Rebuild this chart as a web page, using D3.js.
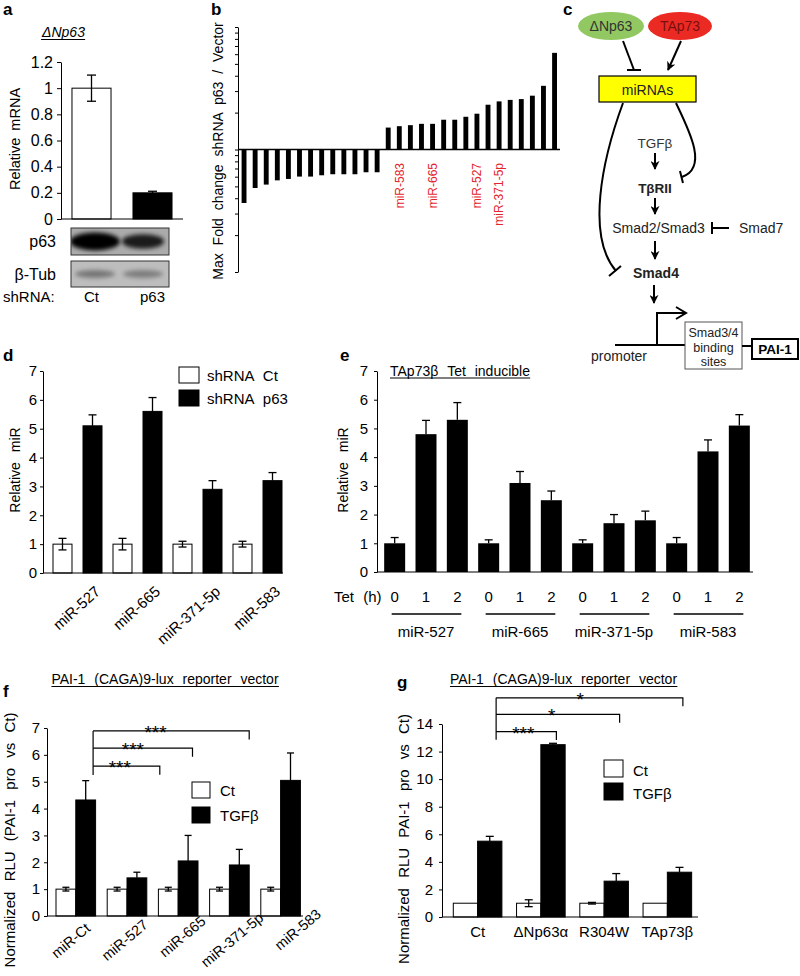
<!DOCTYPE html>
<html><head><meta charset="utf-8">
<script src="https://cdn.jsdelivr.net/npm/d3@7"></script>
<style>
body{margin:0;background:#fff}
svg{font-family:"Liberation Sans",Arial,sans-serif}
</style></head><body>
<svg id="fig" width="800" height="976" xmlns="http://www.w3.org/2000/svg"></svg>
<script>
// ---------------- DATA ----------------
// panel a
const aCategories = ["Ct", "p63"];
const aValues = [1.0, 0.2];
const aErrors = [0.1, 0.012];
const aTicks = [0, 0.2, 0.4, 0.6, 0.8, 1, 1.2];
const blotRows = ["p63", "β-Tub"];
const blotIntensity = [[1.0, 0.75], [0.5, 0.45]];
// panel b (max fold change, log axis)
const bValues = [0.366, 0.485, 0.517, 0.56, 0.575, 0.601, 0.601, 0.616, 0.628, 0.628, 0.628, 0.652, 0.652,
                 1.51, 1.55, 1.58, 1.62, 1.62, 1.75, 1.75, 1.85, 1.96, 2.32, 2.47, 2.54, 2.58, 2.75, 3.31, 6.15];
const bLabelIndex = [14, 17, 21, 23];
const bLabelText = ["miR-583", "miR-665", "miR-527", "miR-371-5p"];
const bTicks = [0.1,0.2,0.3,0.4,0.5,0.6,0.7,0.8,0.9,1,2,3,4,5,6,7,8,9,10];
// panel d
const dCategories = ["miR-527", "miR-665", "miR-371-5p", "miR-583"];
const dSeries = ["shRNA Ct", "shRNA p63"];
const dCt = [1, 1, 1, 1];
const dCtErr = [0.2, 0.2, 0.1, 0.1];
const dP63 = [5.1, 5.6, 2.9, 3.2];
const dP63Err = [0.38, 0.48, 0.3, 0.28];
const dTicks = [0, 1, 2, 3, 4, 5, 6, 7];
// panel e
const eGroups = ["miR-527", "miR-665", "miR-371-5p", "miR-583"];
const eTimes = ["0", "1", "2"];
const eValues = [[1, 4.8, 5.3], [1, 3.1, 2.5], [1, 1.7, 1.8], [1, 4.2, 5.1]];
const eErrors = [[0.2, 0.48, 0.6], [0.12, 0.4, 0.32], [0.12, 0.3, 0.32], [0.2, 0.4, 0.38]];
// panel f
const fCategories = ["miR-Ct", "miR-527", "miR-665", "miR-371-5p", "miR-583"];
const fSeries = ["Ct", "TGFβ"];
const fCt = [1, 1, 1, 1, 1];
const fCtErr = [0.07, 0.07, 0.07, 0.07, 0.07];
const fTGF = [4.32, 1.42, 2.05, 1.9, 5.05];
const fTGFErr = [0.72, 0.21, 0.95, 0.58, 1.02];
const fTicks = [0, 1, 2, 3, 4, 5, 6, 7];
const fSigTo = ["miR-527", "miR-665", "miR-371-5p"];
const fSigLabel = ["***", "***", "***"];
// panel g
const gCategories = ["Ct", "ΔNp63α", "R304W", "TAp73β"];
const gSeries = ["Ct", "TGFβ"];
const gCt = [1, 1, 1, 1];
const gCtErr = [0, 0.25, 0.06, 0];
const gTGF = [5.5, 12.5, 2.6, 3.25];
const gTGFErr = [0.35, 0.1, 0.55, 0.35];
const gTicks = [0, 2, 4, 6, 8, 10, 12, 14];
const gSigTo = ["ΔNp63α", "R304W", "TAp73β"];
const gSigLabel = ["***", "*", "*"];

// ---------------- HELPERS ----------------
const svg = d3.select("#fig");
const FONT = '"Liberation Sans", Arial, sans-serif';
const defs = svg.append("defs");
defs.append("marker").attr("id","arr").attr("viewBox","0 0 10 10").attr("refX",9).attr("refY",5)
  .attr("markerWidth",9).attr("markerHeight",9).attr("markerUnits","userSpaceOnUse").attr("orient","auto")
  .append("path").attr("d","M0,0 L10,5 L0,10 L3,5 Z").attr("fill","#000");
defs.append("filter").attr("id","blur").attr("x","-50%").attr("y","-100%").attr("width","200%").attr("height","300%")
  .append("feGaussianBlur").attr("stdDeviation", 2.2);

function text(g, t, x, y, o = {}) {
  const el = g.append("text").attr("x", x).attr("y", y).attr("font-size", o.fs || 15)
    .attr("text-anchor", o.anchor || "start").attr("fill", o.fill || "#000").text(t);
  if (o.bold) el.attr("font-weight", "bold");
  if (o.italic) el.attr("font-style", "italic");
  if (o.ws) el.style("word-spacing", o.ws + "px");
  return el;
}
function underline(el, dy = 2.5) {
  const b = el.node().getBBox();
  const y = +el.attr("y") + dy;
  d3.select(el.node().parentNode).append("line")
    .attr("x1", b.x).attr("x2", b.x + b.width).attr("y1", y).attr("y2", y).attr("stroke", "#000").attr("stroke-width", 1);
}
function vLabel(t, cx, cy, fs, ws) {
  svg.append("text").attr("transform", `translate(${cx},${cy}) rotate(-90)`).attr("text-anchor", "middle")
    .attr("dy", "0.36em").attr("font-size", fs).style("word-spacing", ws + "px").text(t);
}
function leftAxis(scale, x, ticks, fmt, fs, pad, size = 4) {
  const g = svg.append("g").attr("transform", `translate(${x},0)`)
    .call(d3.axisLeft(scale).tickValues(ticks).tickFormat(fmt).tickSize(size).tickSizeOuter(0).tickPadding(pad));
  g.attr("font-family", FONT).attr("font-size", fs);
  g.selectAll("text").attr("fill", "#000");
  g.selectAll("line,path").attr("stroke", "#000");
  return g;
}
function hline(x1, x2, y, w = 1) {
  svg.append("line").attr("x1", x1).attr("x2", x2).attr("y1", y).attr("y2", y).attr("stroke", "#000").attr("stroke-width", w);
}
function errBars(data, cap) {
  const g = svg.append("g").attr("stroke", "#000").attr("stroke-width", 1.3);
  g.selectAll("line.v").data(data).join("line").attr("class", "v")
    .attr("x1", d => d.x).attr("x2", d => d.x).attr("y1", d => d.y1).attr("y2", d => d.y2);
  g.selectAll("line.t").data(data).join("line").attr("class", "t")
    .attr("x1", d => d.x - cap / 2).attr("x2", d => d.x + cap / 2).attr("y1", d => d.y1).attr("y2", d => d.y1);
  g.selectAll("line.b").data(data.filter(d => d.both)).join("line").attr("class", "b")
    .attr("x1", d => d.x - cap / 2).attr("x2", d => d.x + cap / 2).attr("y1", d => d.y2).attr("y2", d => d.y2);
}
function panelLabel(t, x, y) { text(svg, t, x, y, { fs: 17, bold: true }); }
const fillFor = ["#fff", "#000"];

// ---------------- PANEL a ----------------
panelLabel("a", 3, 15);
{
  const y = d3.scaleLinear().domain([0, 1.2]).range([219, 62]);
  const x = d3.scaleBand().domain(aCategories).range([61, 183]).paddingInner(0.36).paddingOuter(0.18);
  leftAxis(y, 61, aTicks, d3.format("~g"), 16, 4, 4);
  svg.append("g").selectAll("rect").data(aCategories).join("rect")
    .attr("x", d => x(d)).attr("width", x.bandwidth())
    .attr("y", (d, i) => y(aValues[i])).attr("height", (d, i) => y(0) - y(aValues[i]))
    .attr("fill", (d, i) => fillFor[i]).attr("stroke", "#000").attr("stroke-width", 1);
  hline(61, 183, y(0));
  errBars(aCategories.map((d, i) => ({ x: x(d) + x.bandwidth() / 2, y1: y(aValues[i] + aErrors[i]), y2: y(aValues[i] - aErrors[i]), both: i === 0 })), 9);
  const g = svg.append("g");
  const t = text(g, "ΔNp63", 63.5, 37, { fs: 14, italic: true, anchor: "middle" });
  underline(t, 2.5);
  // western blots
  const rowY = [228, 261], rowH = [27, 26];
  const laneX = [0.245, 0.735];
  blotRows.forEach((r, ri) => {
    const bx = 71, bw = 98, by = rowY[ri], bh = rowH[ri];
    const cid = "clip" + ri;
    defs.append("clipPath").attr("id", cid).append("rect").attr("x", bx).attr("y", by).attr("width", bw).attr("height", bh);
    svg.append("rect").attr("x", bx).attr("y", by).attr("width", bw).attr("height", bh).attr("fill", ri ? "#bdbdbd" : "#ababab");
    const gb = svg.append("g").attr("clip-path", `url(#${cid})`);
    gb.selectAll("ellipse").data(blotIntensity[ri]).join("ellipse")
      .attr("cx", (d, li) => bx + bw * laneX[li]).attr("cy", by + bh / 2)
      .attr("rx", (d, li) => ri ? 20 : (li ? 21 : 25)).attr("ry", d => ri ? 4 : 2 + 7 * d)
      .attr("fill", ri ? "#333" : "#000").attr("opacity", d => ri ? d : 0.35 + 0.65 * d)
      .attr("filter", "url(#blur)");
    svg.append("rect").attr("x", bx).attr("y", by).attr("width", bw).attr("height", bh).attr("fill", "none").attr("stroke", "#333").attr("stroke-width", 1);
    text(svg, r, 56, by + bh / 2 + 5.5, { fs: 16, anchor: "end" });
  });
  text(svg, "shRNA:", 3, 302, { fs: 15 });
  aCategories.forEach(c => text(svg, c, x(c) + x.bandwidth() / 2, 302, { fs: 15, anchor: "middle" }));
  vLabel("Relative mRNA", 15, 139, 14.5, 3);
}

// ---------------- PANEL b ----------------
panelLabel("b", 211, 15);
{
  const y = d3.scaleLog().domain([0.1, 10]).range([272, 27]);
  const x = d3.scaleBand().domain(d3.range(bValues.length)).range([238.5, 560.1]).paddingInner(0.56).paddingOuter(0.28);
  leftAxis(y, 238, bTicks, () => "", 10, 0, 3);
  svg.append("g").selectAll("rect").data(bValues).join("rect")
    .attr("x", (d, i) => x(i)).attr("width", x.bandwidth())
    .attr("y", d => Math.min(y(d), y(1))).attr("height", d => Math.abs(y(d) - y(1)))
    .attr("fill", "#000");
  hline(238, 560, y(1), 1.5);
  svg.append("g").selectAll("text").data(bLabelIndex).join("text")
    .attr("transform", d => `translate(${x(d) + x.bandwidth() / 2 + 4.3},163) rotate(-90)`)
    .attr("text-anchor", "end").attr("font-size", 12).attr("fill", "#e3262b")
    .text((d, i) => bLabelText[i]);
  vLabel("Max Fold change shRNA p63 / Vector", 218, 151, 14, 4);
}

// ---------------- PANEL c (diagram) ----------------
panelLabel("c", 563, 15);
{
  const c = svg.append("g").attr("font-size", 14);
  c.append("ellipse").attr("cx", 611).attr("cy", 26).attr("rx", 33).attr("ry", 14).attr("fill", "#92c862");
  c.append("ellipse").attr("cx", 680).attr("cy", 26).attr("rx", 32).attr("ry", 14).attr("fill", "#ec2a24");
  text(c, "ΔNp63", 611, 31, { fs: 14, anchor: "middle", fill: "#333" });
  text(c, "TAp73", 680, 31, { fs: 14, anchor: "middle", fill: "#7a0f0f" });
  const ln = (x1, y1, x2, y2, arrow, w = 2) => {
    const l = c.append("line").attr("x1", x1).attr("y1", y1).attr("x2", x2).attr("y2", y2).attr("stroke", "#000").attr("stroke-width", w);
    if (arrow) l.attr("marker-end", "url(#arr)");
    return l;
  };
  ln(623, 41, 634, 70); ln(627, 70, 641, 70);
  ln(681, 41, 668, 70, true);
  c.append("rect").attr("x", 599).attr("y", 76).attr("width", 97).attr("height", 26).attr("fill", "#ffff00").attr("stroke", "#000").attr("stroke-width", 1.2);
  text(c, "miRNAs", 647.5, 94.5, { fs: 14, anchor: "middle", fill: "#222" });
  c.append("path").attr("d", "M623,103 C602,160 586,236 616,271").attr("fill", "none").attr("stroke", "#000").attr("stroke-width", 2);
  ln(609, 276, 621, 266);
  c.append("path").attr("d", "M676,103 C690,132 708,168 682,177").attr("fill", "none").attr("stroke", "#000").attr("stroke-width", 2);
  ln(680, 171, 683, 183);
  text(c, "TGFβ", 655, 148, { fs: 13.5, anchor: "middle", fill: "#333" });
  ln(655, 153, 655, 169, true);
  text(c, "TβRII", 655, 193, { fs: 13.5, anchor: "middle", bold: true, fill: "#222" });
  ln(655, 198, 655, 214, true);
  text(c, "Smad2/Smad3", 658.5, 233, { fs: 14, anchor: "middle", fill: "#222" });
  ln(712, 222, 712, 234); ln(712, 228, 729, 228);
  text(c, "Smad7", 739, 233, { fs: 14, fill: "#222" });
  ln(655, 241, 655, 259, true);
  text(c, "Smad4", 656, 278, { fs: 14, anchor: "middle", bold: true, fill: "#222" });
  ln(654, 285, 654, 303, true);
  ln(615, 345, 685, 345);
  c.append("path").attr("d", "M657,345 V313 H685").attr("fill", "none").attr("stroke", "#000").attr("stroke-width", 2);
  c.append("path").attr("d", "M676,307 L686,313 L676,319").attr("fill", "none").attr("stroke", "#000").attr("stroke-width", 2);
  text(c, "promoter", 591, 361, { fs: 14, fill: "#222" });
  c.append("rect").attr("x", 685).attr("y", 322).attr("width", 57).attr("height", 47).attr("fill", "#fff").attr("stroke", "#555").attr("stroke-width", 1);
  text(c, "Smad3/4", 713.5, 337, { fs: 12.5, anchor: "middle", fill: "#222" });
  text(c, "binding", 713.5, 352, { fs: 12.5, anchor: "middle", fill: "#222" });
  text(c, "sites", 713.5, 366, { fs: 12.5, anchor: "middle", fill: "#222" });
  ln(742, 346, 752, 346);
  c.append("rect").attr("x", 752).attr("y", 339).attr("width", 46).attr("height", 20).attr("fill", "#fff").attr("stroke", "#000").attr("stroke-width", 2);
  text(c, "PAI-1", 775, 354, { fs: 13.5, anchor: "middle", bold: true });
}

// ---------------- PANEL d ----------------
panelLabel("d", 3, 361);
{
  const y = d3.scaleLinear().domain([0, 7]).range([573, 371]);
  const x0 = d3.scaleBand().domain(dCategories).range([47, 287]);
  const x1 = d3.scaleBand().domain(dSeries).range([6, 55]).paddingInner(0.367);
  leftAxis(y, 43, dTicks, d3.format("d"), 15, 3, 3);
  const series = [dCt, dP63], errs = [dCtErr, dP63Err];
  dSeries.forEach((s, si) => {
    svg.append("g").selectAll("rect").data(dCategories).join("rect")
      .attr("x", d => x0(d) + x1(s)).attr("width", x1.bandwidth())
      .attr("y", (d, i) => y(series[si][i])).attr("height", (d, i) => y(0) - y(series[si][i]))
      .attr("fill", fillFor[si]).attr("stroke", "#000").attr("stroke-width", 1);
    errBars(dCategories.map((d, i) => ({ x: x0(d) + x1(s) + x1.bandwidth() / 2, y1: y(series[si][i] + errs[si][i]), y2: si ? y(series[si][i]) : y(series[si][i] - errs[si][i]), both: !si })), 8);
  });
  hline(43, 283, y(0));
  svg.append("g").selectAll("text").data(dCategories).join("text")
    .attr("transform", d => `translate(${x0(d) + x0.bandwidth() / 2 + 17},585) rotate(-42)`)
    .attr("text-anchor", "end").attr("dy", "0.71em").attr("font-size", 15).text(d => d);
  dSeries.forEach((s, si) => {
    svg.append("rect").attr("x", 179).attr("y", 367 + si * 23).attr("width", 20).attr("height", 16)
      .attr("fill", fillFor[si]).attr("stroke", "#000");
    text(svg, s, 207, 381 + si * 23, { fs: 15, ws: 5 });
  });
  vLabel("Relative miR", 15, 470, 14, 6);
}

// ---------------- PANEL e ----------------
panelLabel("e", 340, 361);
{
  const y = d3.scaleLinear().domain([0, 7]).range([572, 371]);
  const keys = eGroups.flatMap(g => eTimes.map(t => g + "|" + t));
  const x = d3.scaleBand().domain(keys).range([379, 755]).paddingInner(0.33).paddingOuter(0.165);
  leftAxis(y, 377, dTicks, d3.format("d"), 15, 6, 3);
  const flat = eGroups.flatMap((g, gi) => eTimes.map((t, ti) => ({ k: g + "|" + t, v: eValues[gi][ti], e: eErrors[gi][ti] })));
  svg.append("g").selectAll("rect").data(flat).join("rect")
    .attr("x", d => x(d.k)).attr("width", x.bandwidth())
    .attr("y", d => y(d.v)).attr("height", d => y(0) - y(d.v)).attr("fill", "#000");
  errBars(flat.map(d => ({ x: x(d.k) + x.bandwidth() / 2, y1: y(d.v + d.e), y2: y(d.v) })), 8);
  hline(377, 753, y(0));
  const t = text(svg, "TAp73β Tet inducible", 390, 376, { fs: 14, ws: 5 });
  underline(t, 2);
  text(svg, "Tet (h)", 334, 602, { fs: 15, ws: 5 });
  svg.append("g").selectAll("text").data(flat).join("text")
    .attr("x", d => x(d.k) + x.bandwidth() / 2).attr("y", 602).attr("text-anchor", "middle").attr("font-size", 15)
    .text(d => d.k.split("|")[1]);
  eGroups.forEach(g => {
    const c0 = x(g + "|" + eTimes[0]) + x.bandwidth() / 2, c2 = x(g + "|" + eTimes[2]) + x.bandwidth() / 2;
    hline(c0 - 3, c2 + 4, 614, 1.3);
    text(svg, g, (c0 + c2) / 2, 637, { fs: 15, anchor: "middle" });
  });
  vLabel("Relative miR", 343, 470, 14, 6);
}

// ---------------- PANEL f ----------------
panelLabel("f", 3, 697);
{
  const y = d3.scaleLinear().domain([0, 7]).range([916, 728]);
  const x0 = d3.scaleBand().domain(fCategories).range([50, 306]);
  const x1 = d3.scaleBand().domain(fSeries).range([6, 45.6]);
  leftAxis(y, 47, fTicks, d3.format("d"), 15, 4, 3);
  const series = [fCt, fTGF], errs = [fCtErr, fTGFErr];
  fSeries.forEach((s, si) => {
    svg.append("g").selectAll("rect").data(fCategories).join("rect")
      .attr("x", d => x0(d) + x1(s)).attr("width", x1.bandwidth())
      .attr("y", (d, i) => y(series[si][i])).attr("height", (d, i) => y(0) - y(series[si][i]))
      .attr("fill", fillFor[si]).attr("stroke", "#000").attr("stroke-width", 1);
    errBars(fCategories.map((d, i) => ({ x: x0(d) + x1(s) + x1.bandwidth() / 2, y1: y(series[si][i] + errs[si][i]), y2: si ? y(series[si][i]) : y(series[si][i] - errs[si][i]), both: !si })), 7);
  });
  hline(47, 303, y(0));
  const t = text(svg, "PAI-1 (CAGA)9-lux reporter vector", 165, 684, { fs: 14, anchor: "middle", ws: 5 });
  underline(t, 2.5);
  const bx0 = x0(fCategories[0]) + x0.bandwidth() / 2 + 17.5;
  const rightDx = [33, 14.5, 20];
  const levels = [5.58, 6.25, 6.89];
  const g = svg.append("g").attr("stroke", "#000").attr("stroke-width", 1.2).attr("fill", "none");
  g.append("line").attr("x1", bx0).attr("x2", bx0).attr("y1", y(levels[2])).attr("y2", y(5.25));
  fSigTo.forEach((c, i) => {
    const xr = x0(c) + x0.bandwidth() / 2 + rightDx[i];
    g.append("path").attr("d", `M${bx0},${y(levels[i])} H${xr} V${y(levels[i]) + 8.5}`);
    text(svg, fSigLabel[i], bx0 + 0.4 * (xr - bx0), y(levels[i]) + 8, { fs: 19, anchor: "middle" });
  });
  fSeries.forEach((s, si) => {
    svg.append("rect").attr("x", 192).attr("y", 782 + si * 25).attr("width", 18).attr("height", 16)
      .attr("fill", fillFor[si]).attr("stroke", "#000");
    text(svg, s, 220, 796 + si * 25, { fs: 15 });
  });
  svg.append("g").selectAll("text").data(fCategories).join("text")
    .attr("transform", (d, i) => `translate(${x0(d) + x0.bandwidth() / 2 + 9 + 6.5 * i},${922 - 3.5 * i}) rotate(-40)`)
    .attr("text-anchor", "end").attr("dy", "0.71em").attr("font-size", 14.5).text(d => d);
  vLabel("Normalized RLU (PAI-1 pro vs Ct)", 10, 840, 15, 6);
}

// ---------------- PANEL g ----------------
panelLabel("g", 397, 688);
{
  const y = d3.scaleLinear().domain([0, 14]).range([917, 724]);
  const x0 = d3.scaleBand().domain(gCategories).range([446, 699]);
  const x1 = d3.scaleBand().domain(gSeries).range([7.3, 55.9]);
  leftAxis(y, 442, gTicks, d3.format("d"), 15, 6, 3);
  const series = [gCt, gTGF], errs = [gCtErr, gTGFErr];
  gSeries.forEach((s, si) => {
    svg.append("g").selectAll("rect").data(gCategories).join("rect")
      .attr("x", d => x0(d) + x1(s)).attr("width", x1.bandwidth())
      .attr("y", (d, i) => y(series[si][i])).attr("height", (d, i) => y(0) - y(series[si][i]))
      .attr("fill", fillFor[si]).attr("stroke", "#000").attr("stroke-width", 1);
    const eb = gCategories.map((d, i) => ({ x: x0(d) + x1(s) + x1.bandwidth() / 2, y1: y(series[si][i] + errs[si][i]), y2: si ? y(series[si][i]) : y(series[si][i] - errs[si][i]), both: !si, e: errs[si][i] })).filter(d => d.e > 0);
    errBars(eb, 8);
  });
  hline(442, 698, y(0));
  const t = text(svg, "PAI-1 (CAGA)9-lux reporter vector", 563.5, 684, { fs: 14, anchor: "middle", ws: 5 });
  underline(t, 2.5);
  const bx0 = x0(gCategories[0]) + x0.bandwidth() / 2 + 18.5;
  const levels = [13.45, 14.7, 15.9];
  const g = svg.append("g").attr("stroke", "#000").attr("stroke-width", 1.2).attr("fill", "none");
  g.append("line").attr("x1", bx0).attr("x2", bx0).attr("y1", y(levels[2])).attr("y2", y(12.85));
  gSigTo.forEach((c, i) => {
    const xr = x0(c) + x0.bandwidth() / 2 + 15.5;
    g.append("path").attr("d", `M${bx0},${y(levels[i])} H${xr} V${y(levels[i]) + 8.5}`);
    text(svg, gSigLabel[i], bx0 + 0.45 * (xr - bx0), y(levels[i]) + 8, { fs: 19, anchor: "middle" });
  });
  gSeries.forEach((s, si) => {
    svg.append("rect").attr("x", 604).attr("y", 760 + si * 23).attr("width", 19).attr("height", 17)
      .attr("fill", fillFor[si]).attr("stroke", "#000");
    text(svg, s, 633, 776 + si * 23, { fs: 15 });
  });
  svg.append("g").selectAll("text").data(gCategories).join("text")
    .attr("x", d => x0(d) + x0.bandwidth() / 2).attr("y", 937).attr("text-anchor", "middle").attr("font-size", 15)
    .text(d => d);
  vLabel("Normalized RLU PAI-1 pro vs Ct)", 404, 839, 15, 6);
}
</script>
</body></html>
